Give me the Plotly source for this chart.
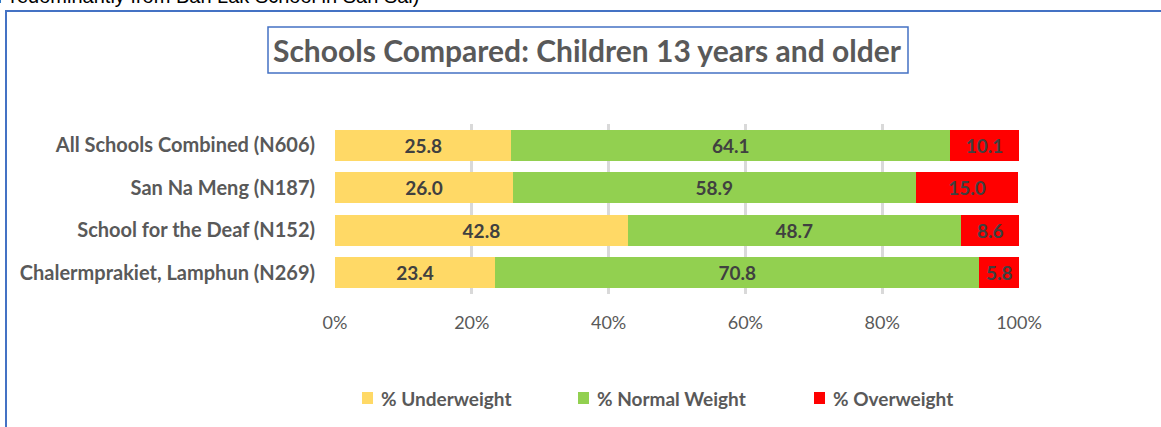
import plotly.graph_objects as go

schools = ["All Schools Combined (N606)", "San Na Meng (N187)",
           "School for the Deaf (N152)", "Chalermprakiet, Lamphun (N269)"]
underweight = [25.8, 26.0, 42.8, 23.4]
normal = [64.1, 58.9, 48.7, 70.8]
overweight = [10.1, 15.0, 8.6, 5.8]
series_names = ["% Underweight", "% Normal Weight", "% Overweight"]
series_colors = ["#FFD966", "#92D050", "#FF0000"]
x_ticks = [0, 20, 40, 60, 80, 100]
x_tick_labels = ["0%", "20%", "40%", "60%", "80%", "100%"]
title_text = "Schools Compared: Children 13 years and older"
top_text = "Predominantly from Ban Lak School in San Sai)"

W, H = 1161, 427
L, R, T, B = 335, 1019, 124, 294


def px(x):
    return (x - L) / (R - L)


def py(y):
    return (B - y) / (B - T)


GRAY = "#595959"
FONT = "Lato"

fig = go.Figure()
for name, vals, col in zip(series_names, [underweight, normal, overweight], series_colors):
    fig.add_trace(go.Bar(
        y=schools, x=vals, name=name, orientation="h",
        marker=dict(color=col, line=dict(width=0)),
        text=vals, texttemplate="%{x:.1f}", textposition="inside",
        insidetextanchor="middle", constraintext="none",
        textfont=dict(family=FONT, size=19, color="#404040", weight="bold"),
        showlegend=False, hoverinfo="skip",
    ))

fig.update_layout(
    width=W, height=H, barmode="stack", bargap=0.27,
    margin=dict(l=L, r=W - R, t=T, b=H - B, pad=0),
    paper_bgcolor="white", plot_bgcolor="white",
)
fig.update_xaxes(
    range=[0, 100], tickvals=x_ticks, ticktext=x_tick_labels,
    showgrid=True, gridcolor="#D9D9D9", gridwidth=3,
    zeroline=False, showline=False, ticks="",
    tickfont=dict(family=FONT, size=18, color=GRAY),
    ticklabelstandoff=16,
)
fig.update_yaxes(
    categoryorder="array", categoryarray=schools, autorange="reversed",
    showgrid=False, zeroline=False, showline=False, ticks="",
    tickfont=dict(family=FONT, size=20, color=GRAY, weight="bold"),
    ticklabelstandoff=19,
)

shapes = []
annotations = []
# outer frame
shapes.append(dict(type="rect", xref="paper", yref="paper",
                   x0=px(6), x1=px(1200), y0=py(460), y1=py(11),
                   line=dict(color="#4472C4", width=2), fillcolor="rgba(0,0,0,0)", layer="below"))
# title box
shapes.append(dict(type="rect", xref="paper", yref="paper",
                   x0=px(268), x1=px(908), y0=py(73), y1=py(27),
                   line=dict(color="#4472C4", width=1.5), fillcolor="white"))
annotations.append(dict(text=title_text, xref="paper", yref="paper",
                        x=px(587.5), y=py(50), xanchor="center", yanchor="middle",
                        showarrow=False,
                        font=dict(family=FONT, size=30, color=GRAY, weight="bold")))
# cut-off text on top
annotations.append(dict(text=top_text, xref="paper", yref="paper",
                        x=px(-5), y=py(9), xanchor="left", yanchor="bottom",
                        showarrow=False,
                        font=dict(family="Liberation Sans", size=20, color="black")))
# legend
leg_marker_x = [362, 578, 814]
for name, col, mx in zip(series_names, series_colors, leg_marker_x):
    shapes.append(dict(type="rect", xref="paper", yref="paper",
                       x0=px(mx), x1=px(mx + 11), y0=py(404), y1=py(392),
                       line=dict(width=0), fillcolor=col))
    annotations.append(dict(text=name, xref="paper", yref="paper",
                            x=px(mx + 17), y=py(398), xanchor="left", yanchor="middle",
                            showarrow=False,
                            font=dict(family=FONT, size=19, color=GRAY, weight="bold")))

fig.update_layout(shapes=shapes, annotations=annotations)
fig.write_html("out.html")
